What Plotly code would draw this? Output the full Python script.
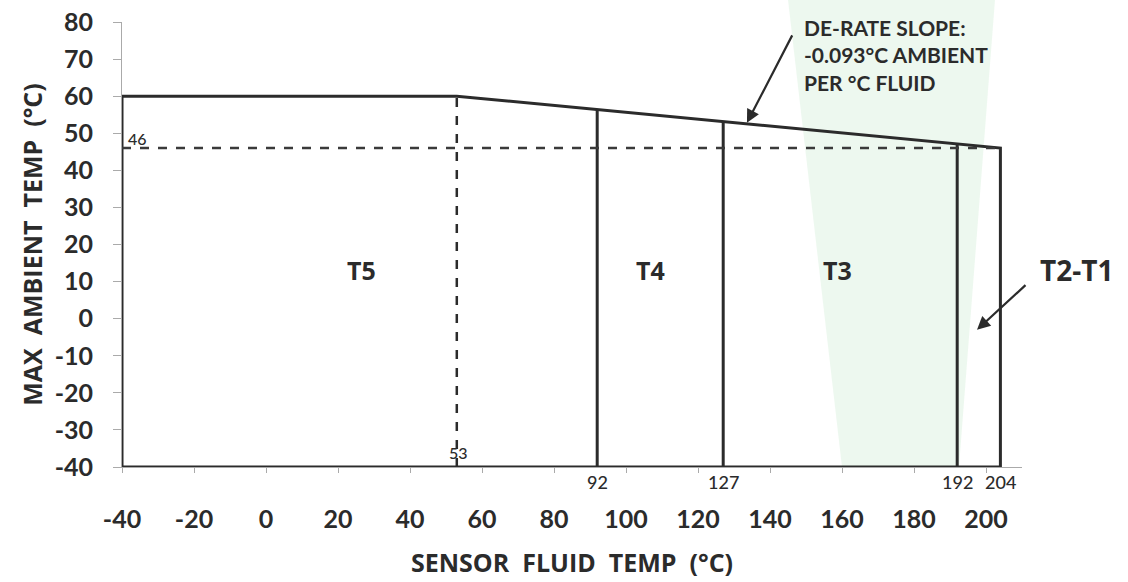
import plotly.graph_objects as go

# ---- data ----
x_ticks = [-40, -20, 0, 20, 40, 60, 80, 100, 120, 140, 160, 180, 200]
x_tick_text = ["-40", "-20", "0", "20", "40", "60", "80", "100", "120", "140", "160", "180", "200"]
y_ticks = [-40, -30, -20, -10, 0, 10, 20, 30, 40, 50, 60, 70, 80]
y_tick_text = ["-40", "-30", "-20", "-10", "0", "10", "20", "30", "40", "50", "60", "70", "80"]

envelope_x = [-40, -40, 53, 204, 204, -40]
envelope_y = [-40, 60, 60, 46, -40, -40]

class_bounds = [92, 127, 192]          # solid vertical boundaries
class_tops = [56.4, 53.1, 47.1]        # where they meet the de-rate line
dash_x = 53
dash_y = 46
x_min, x_max = -40, 204
y_min = -40

region_names = ["T5", "T4", "T3"]
region_x = [26.5, 106.8, 158.8]
region_y = [13, 13, 13]

value_labels = ["92", "127", "192", "204"]
value_x = [92, 127, 192, 204]

FONT = "Lato"
TFONT = "Open Sans"
DARK = "#2b2b2b"
SP = "\u00a0 "

fig = go.Figure()

# envelope outline
fig.add_trace(go.Scatter(x=envelope_x, y=envelope_y, mode="lines",
                         line=dict(color=DARK, width=3), cliponaxis=False,
                         hoverinfo="skip"))
# class boundaries
for bx, by in zip(class_bounds, class_tops):
    fig.add_trace(go.Scatter(x=[bx, bx], y=[y_min, by], mode="lines",
                             line=dict(color=DARK, width=3), cliponaxis=False,
                             hoverinfo="skip"))
# dashed reference lines
fig.add_trace(go.Scatter(x=[dash_x, dash_x], y=[y_min, 60], mode="lines",
                         line=dict(color=DARK, width=2.5, dash="dash"),
                         hoverinfo="skip"))
fig.add_trace(go.Scatter(x=[x_min, x_max], y=[dash_y, dash_y], mode="lines",
                         line=dict(color="#3a3a3a", width=2.5, dash="dash"),
                         cliponaxis=False, hoverinfo="skip"))

annotations = []
for name, rx, ry in zip(region_names, region_x, region_y):
    annotations.append(dict(x=rx, y=ry, text=name, showarrow=False,
                            font=dict(family=TFONT, size=25, color=DARK, weight="bold")))
for lab, vx in zip(value_labels, value_x):
    annotations.append(dict(x=vx, y=y_min, text=lab, showarrow=False, yshift=-15,
                            font=dict(family=FONT, size=18, color=DARK, weight=500)))
annotations.append(dict(x=-39, y=dash_y, text="46", showarrow=False, xanchor="left",
                        yanchor="bottom", yshift=-2,
                        font=dict(family=FONT, size=16, color=DARK, weight=500)))
annotations.append(dict(x=dash_x, y=y_min, text="53", showarrow=False, xanchor="left",
                        yanchor="bottom", xshift=-10, yshift=3,
                        font=dict(family=FONT, size=16, color=DARK, weight=500)))
# de-rate slope note
annotations.append(dict(x=133.6, y=52.8, ax=46, ay=-89,
                        xref="x", yref="y", text="", showarrow=True, arrowhead=2,
                        arrowsize=1.2, arrowwidth=2.2, arrowcolor=DARK))
annotations.append(dict(xref="paper", yref="paper", x=(802 - 122) / 900, y=1.02,
                        xanchor="left", yanchor="top", align="left", showarrow=False,
                        text="DE-RATE SLOPE:<br>-0.093°C AMBIENT<br>PER °C FLUID",
                        font=dict(family=FONT, size=21, color=DARK, weight="bold")))
# T2-T1 note
annotations.append(dict(x=197.5, y=-3, ax=50, ay=-46,
                        text="", showarrow=True, arrowhead=2, arrowsize=1.2,
                        arrowwidth=2.2, arrowcolor=DARK))
annotations.append(dict(xref="paper", yref="y", x=(1076 - 122) / 900, y=13,
                        xanchor="center", text="T2-T1", showarrow=False,
                        font=dict(family=TFONT, size=28, color=DARK, weight="bold")))

fig.update_layout(
    width=1128, height=582,
    margin=dict(l=122, r=106, t=22, b=115),
    paper_bgcolor="white", plot_bgcolor="rgba(0,0,0,0)",
    showlegend=False,
    annotations=annotations,
    font=dict(family=FONT, color=DARK),
    shapes=[dict(type="path", xref="paper", yref="paper", layer="below",
                 path="M 0.74 1.05 L 0.97 1.05 L 0.93 0.0 L 0.80 0.0 Z",
                 fillcolor="rgba(175,225,180,0.22)", line=dict(width=0))],
)
fig.update_xaxes(range=[-40, 210], tickvals=x_ticks, ticktext=x_tick_text,
                 showgrid=False, zeroline=False, automargin=False,
                 showline=True, linecolor="#aaaaaa", linewidth=1,
                 ticks="outside", ticklen=5, tickcolor="#aaaaaa",
                 ticklabelstandoff=25,
                 tickfont=dict(family=FONT, size=25, color=DARK, weight="bold"),
                 title=dict(text=f"SENSOR{SP}FLUID{SP}TEMP{SP}(°C)", standoff=22,
                            font=dict(family=TFONT, size=25, color=DARK, weight="bold")))
fig.update_yaxes(range=[-40, 80], tickvals=y_ticks, ticktext=y_tick_text,
                 showgrid=False, zeroline=False, automargin=False,
                 showline=True, linecolor="#aaaaaa", linewidth=1,
                 ticks="outside", ticklen=8, tickcolor="#aaaaaa",
                 ticklabelstandoff=15,
                 tickfont=dict(family=FONT, size=25, color=DARK, weight="bold"),
                 title=dict(text=f"MAX{SP}AMBIENT{SP}TEMP{SP}(°C)", standoff=4,
                            font=dict(family=TFONT, size=25, color=DARK, weight="bold")))

fig.write_html("out.html")
